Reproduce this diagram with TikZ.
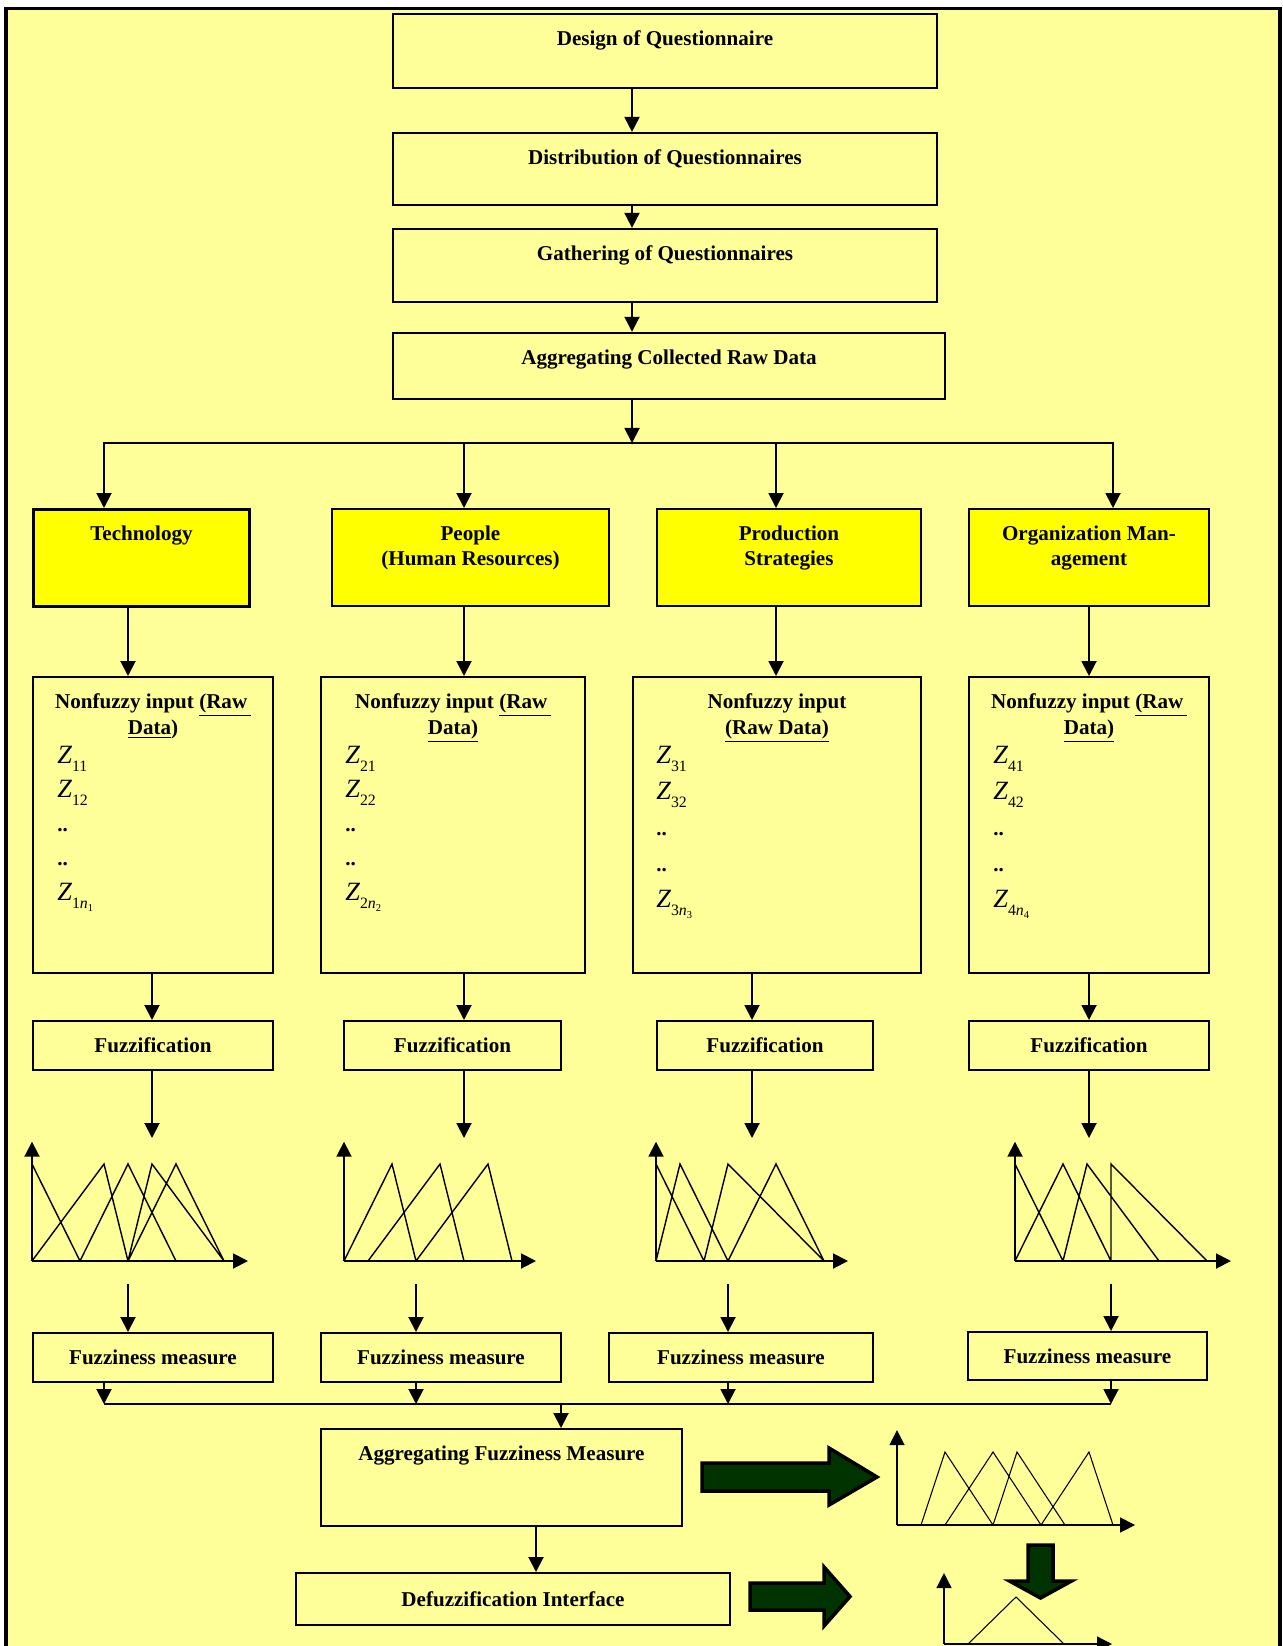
\documentclass[tikz,border=0pt,12pt]{standalone}
\usepackage{fontspec}
\setmainfont{Liberation Serif}
\usepackage{tikz}
\usetikzlibrary{arrows.meta, positioning}

\definecolor{paleyellow}{HTML}{FFFF99}
\definecolor{boxyellow}{HTML}{FFFF00}
\definecolor{darkgreen}{HTML}{003300}

\tikzstyle{arrow} = [line width=1.1pt, -{Triangle[length=0.3cm, width=0.3cm]}]
\tikzstyle{wire} = [line width=1.1pt]
\tikzstyle{box} = [rectangle, draw, line width=1.1pt, fill=paleyellow, font=\bfseries, align=center, anchor=north west, inner sep=0pt]
\tikzstyle{factor} = [box, fill=boxyellow]
\tikzstyle{title} = [anchor=north, yshift=-0.21cm, font=\bfseries, align=center]
\tikzstyle{zlist} = [inner sep=0pt, align=left, font=\fontsize{15}{19.5}\selectfont]
\tikzstyle{mf} = [line width=0.8pt]
\tikzstyle{fat} = [draw=black, line width=2pt, fill=darkgreen, line join=miter]

\newcommand{\zin}[1]{{\itshape Z}\raisebox{-0.16cm}{\fontsize{9}{9}\selectfont #1}}
\newcommand{\zlast}[1]{{\itshape Z}\raisebox{-0.16cm}{\fontsize{9}{9}\selectfont #1\textit{n}\raisebox{-0.07cm}{\fontsize{6}{6}\selectfont #1}}}
\newcommand{\zdots}{{\fontsize{12}{12}\selectfont\bfseries ..}}

\begin{document}
\begin{tikzpicture}
\useasboundingbox (0,0) rectangle (25.64,-32.92);
\draw[line width=2pt, fill=paleyellow] (0.12,-0.17) rectangle (25.6,-33.5);

% questionnaire stages
\node (design) [box, minimum width=10.88cm, minimum height=1.48cm, label={[title]north:Design of Questionnaire}] at (7.84,-0.26) {};
\node (dist) [box, minimum width=10.88cm, minimum height=1.44cm, below=0.86cm of design.south west, anchor=north west, label={[title]north:Distribution of Questionnaires}] {};
\node (gather) [box, minimum width=10.88cm, minimum height=1.46cm, below=0.44cm of dist.south west, anchor=north west, label={[title]north:Gathering of Questionnaires}] {};
\node (aggraw) [box, minimum width=11.04cm, minimum height=1.32cm, below=0.58cm of gather.south west, anchor=north west, label={[title]north:Aggregating Collected Raw Data}] {};

\coordinate (spine) at (12.64,0);
\coordinate (split) at (12.64,-8.86);
\draw[arrow] (design.south -| spine) -- (dist.north -| spine);
\draw[arrow] (dist.south -| spine) -- (gather.north -| spine);
\draw[arrow] (gather.south -| spine) -- (aggraw.north -| spine);
\draw[arrow] (aggraw.south -| spine) -- (split);

% the four factors
\node (tech) [factor, line width=1.7pt, minimum width=4.32cm, minimum height=1.94cm, label={[title]north:Technology}] at (0.64,-10.16) {};
\node (people) [factor, minimum width=5.54cm, minimum height=1.94cm, label={[title]north:People\\(Human Resources)}] at (6.62,-10.16) {};
\node (prod) [factor, minimum width=5.28cm, minimum height=1.94cm, label={[title]north:Production\\Strategies}] at (13.12,-10.16) {};
\node (org) [factor, minimum width=4.8cm, minimum height=1.94cm, label={[title]north:Organization Man-\\agement}] at (19.36,-10.16) {};

\coordinate (b1) at (2.08,0);
\coordinate (b2) at (9.28,0);
\coordinate (b3) at (15.52,0);
\coordinate (b4) at (22.26,0);
\draw[arrow] (split) -| (b1 |- tech.north);
\draw[arrow] (split) -| (b2 |- people.north);
\draw[arrow] (split) -| (b3 |- prod.north);
\draw[arrow] (split) -| (b4 |- org.north);

% raw data inputs
\node (in1) [box, minimum width=4.8cm, minimum height=5.92cm, label={[title]north:Nonfuzzy input \underline{(Raw\,}\\\underline{Data})}] at (0.64,-13.52) {};
\node (in2) [box, minimum width=5.28cm, minimum height=5.92cm, label={[title]north:Nonfuzzy input \underline{(Raw\,}\\\underline{Data)}}] at (6.4,-13.52) {};
\node (in3) [box, minimum width=5.76cm, minimum height=5.92cm, label={[title]north:Nonfuzzy input\\\underline{(Raw Data)}}] at (12.64,-13.52) {};
\node (in4) [box, minimum width=4.8cm, minimum height=5.92cm, label={[title]north:Nonfuzzy input \underline{(Raw\,}\\\underline{Data)}}] at (19.36,-13.52) {};

\node (z1) [zlist, below right=1.39cm and 0.5cm of in1.north west] {\zin{11}\\\zin{12}\\\zdots\\\zdots\\\zlast{1}};
\node (z2) [zlist, below right=1.39cm and 0.5cm of in2.north west] {\zin{21}\\\zin{22}\\\zdots\\\zdots\\\zlast{2}};
\node (z3) [zlist, font=\fontsize{15}{20.5}\selectfont, below right=1.39cm and 0.48cm of in3.north west] {\zin{31}\\\zin{32}\\\zdots\\\zdots\\\zlast{3}};
\node (z4) [zlist, font=\fontsize{15}{20.5}\selectfont, below right=1.39cm and 0.5cm of in4.north west] {\zin{41}\\\zin{42}\\\zdots\\\zdots\\\zlast{4}};

\coordinate (c1) at (2.56,0);
\coordinate (c4) at (21.78,0);
\draw[arrow] (c1 |- tech.south) -- (c1 |- in1.north);
\draw[arrow] (b2 |- people.south) -- (b2 |- in2.north);
\draw[arrow] (b3 |- prod.south) -- (b3 |- in3.north);
\draw[arrow] (c4 |- org.south) -- (c4 |- in4.north);

% fuzzification
\node (fz1) [box, minimum width=4.8cm, minimum height=0.98cm] at (0.64,-20.4) {Fuzzification};
\node (fz2) [box, minimum width=4.34cm, minimum height=0.98cm] at (6.86,-20.4) {Fuzzification};
\node (fz3) [box, minimum width=4.32cm, minimum height=0.98cm] at (13.12,-20.4) {Fuzzification};
\node (fz4) [box, minimum width=4.8cm, minimum height=0.98cm] at (19.36,-20.4) {Fuzzification};

\coordinate (d1) at (3.04,0);
\coordinate (d3) at (15.04,0);
\coordinate (gtop) at (0,-22.76);
\draw[arrow] (d1 |- in1.south) -- (d1 |- fz1.north);
\draw[arrow] (b2 |- in2.south) -- (b2 |- fz2.north);
\draw[arrow] (d3 |- in3.south) -- (d3 |- fz3.north);
\draw[arrow] (c4 |- in4.south) -- (c4 |- fz4.north);
\draw[arrow] (d1 |- fz1.south) -- (d1 |- gtop);
\draw[arrow] (b2 |- fz2.south) -- (b2 |- gtop);
\draw[arrow] (d3 |- fz3.south) -- (d3 |- gtop);
\draw[arrow] (c4 |- fz4.south) -- (c4 |- gtop);

% membership functions
\begin{scope}[shift={(0.64,-25.22)}, x=0.48cm, y=1.94cm]
  \draw[arrow] (0,0) -- (0,1.23);
  \draw[arrow] (0,0) -- (9,0);
  \draw[mf] (0,1) -- (2,0) (0,0) -- (3,1) -- (4,0) (2,0) -- (4,1) -- (6,0)
            (4,0) -- (5,1) -- (8,0) (4,0) -- (6,1) -- (8,0);
\end{scope}
\begin{scope}[shift={(6.88,-25.22)}, x=0.48cm, y=1.94cm]
  \draw[arrow] (0,0) -- (0,1.23);
  \draw[arrow] (0,0) -- (8,0);
  \draw[mf] (0,0) -- (2,1) -- (3,0) (1,0) -- (4,1) -- (5,0) (3,0) -- (6,1) -- (7,0);
\end{scope}
\begin{scope}[shift={(13.12,-25.22)}, x=0.48cm, y=1.94cm]
  \draw[arrow] (0,0) -- (0,1.23);
  \draw[arrow] (0,0) -- (8,0);
  \draw[mf] (0,1) -- (2,0) (0,0) -- (1,1) -- (3,0) (2,0) -- (3,1) -- (7,0)
            (3,0) -- (5,1) -- (7,0);
\end{scope}
\begin{scope}[shift={(20.3,-25.22)}, x=0.48cm, y=1.94cm]
  \draw[arrow] (0,0) -- (0,1.23);
  \draw[arrow] (0,0) -- (9,0);
  \draw[mf] (0,1) -- (2,0) (0,0) -- (2,1) -- (4,0) (2,0) -- (3,1) -- (6,0)
            (4,0) -- (4,1) -- (8,0);
\end{scope}

% fuzziness measures
\node (fm1) [box, minimum width=4.8cm, minimum height=0.98cm] at (0.64,-26.64) {Fuzziness measure};
\node (fm2) [box, minimum width=4.8cm, minimum height=0.98cm] at (6.4,-26.64) {Fuzziness measure};
\node (fm3) [box, minimum width=5.28cm, minimum height=0.98cm] at (12.16,-26.64) {Fuzziness measure};
\node (fm4) [box, minimum width=4.78cm, minimum height=0.96cm] at (19.34,-26.62) {Fuzziness measure};

\coordinate (e2) at (8.32,0);
\coordinate (e3) at (14.56,0);
\coordinate (e4) at (22.22,0);
\coordinate (gbot) at (0,-25.68);
\draw[arrow] (c1 |- gbot) -- (c1 |- fm1.north);
\draw[arrow] (e2 |- gbot) -- (e2 |- fm2.north);
\draw[arrow] (e3 |- gbot) -- (e3 |- fm3.north);
\draw[arrow] (e4 |- gbot) -- (e4 |- fm4.north);

% aggregation and defuzzification
\node (aggfz) [box, minimum width=7.22cm, minimum height=1.94cm, label={[title]north:Aggregating Fuzziness Measure}] at (6.4,-28.56) {};
\node (defuzz) [box, minimum width=8.68cm, minimum height=1.04cm] at (5.9,-31.44) {Defuzzification Interface};

\coordinate (merge) at (11.22,-28.08);
\coordinate (down) at (10.72,0);
\draw[arrow] (b1 |- fm1.south) -- (b1 |- merge);
\draw[arrow] (e2 |- fm2.south) -- (e2 |- merge);
\draw[arrow] (e3 |- fm3.south) -- (e3 |- merge);
\draw[arrow] (e4 |- fm4.south) -- (e4 |- merge);
\draw[wire] (b1 |- merge) -- (e4 |- merge);
\draw[arrow] (merge) -- (merge |- aggfz.north);
\draw[arrow] (down |- aggfz.south) -- (down |- defuzz.north);

% block arrows
\draw[fat] (14.04,-29.26) -- (16.58,-29.26) -- (16.58,-28.96) -- (17.54,-29.54)
  -- (16.58,-30.1) -- (16.58,-29.82) -- (14.04,-29.82) -- cycle;
\draw[fat] (15,-31.66) -- (16.48,-31.66) -- (16.48,-31.34) -- (17,-31.93)
  -- (16.48,-32.52) -- (16.48,-32.2) -- (15,-32.2) -- cycle;
\draw[fat] (20.56,-30.9) -- (21.06,-30.9) -- (21.06,-31.62) -- (21.43,-31.62)
  -- (20.81,-31.96) -- (20.19,-31.62) -- (20.56,-31.62) -- cycle;

% aggregated and crisp output
\begin{scope}[shift={(17.94,-30.5)}, x=0.48cm, y=1.46cm]
  \draw[arrow, line width=0.8pt] (0,0) -- (0,1.3);
  \draw[arrow, line width=0.8pt] (0,0) -- (9.92,0);
  \draw[mf, line width=0.6pt] (1,0) -- (2,1) -- (4,0) (2,0) -- (4,1) -- (6,0)
            (4,0) -- (5,1) -- (7,0) (6,0) -- (8,1) -- (9,0);
\end{scope}
\begin{scope}[shift={(18.88,-32.88)}, x=0.48cm, y=0.94cm]
  \draw[arrow, line width=0.8pt] (0,0) -- (0,1.51);
  \draw[arrow, line width=0.8pt] (0,0) -- (7,0);
  \draw[mf, line width=0.6pt] (1,0) -- (3,1) -- (5,0);
\end{scope}
\end{tikzpicture}
\end{document}
